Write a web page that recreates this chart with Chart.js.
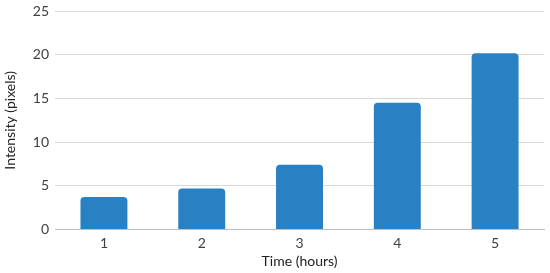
<!DOCTYPE html>
<html>
<head>
<meta charset="utf-8">
<script src="https://cdn.jsdelivr.net/npm/chart.js@4/dist/chart.umd.min.js"></script>
<style>
  html, body { margin: 0; padding: 0; background: #fff; }
  #wrap { width: 550px; height: 273px; }
</style>
</head>
<body>
<div id="wrap"><canvas id="chart"></canvas></div>
<script>
const hours = ['1', '2', '3', '4', '5'];
const intensity = [3.7, 4.7, 7.4, 14.5, 20.2];
const yTicks = [0, 5, 10, 15, 20, 25];

const font = "Lato, 'Liberation Sans', Arial, sans-serif";

new Chart(document.getElementById('chart'), {
  type: 'bar',
  data: {
    labels: hours,
    datasets: [{
      data: intensity,
      backgroundColor: '#2980c2',
      borderRadius: { topLeft: 4, topRight: 4 },
      borderSkipped: 'bottom',
      categoryPercentage: 0.48,
      barPercentage: 1
    }]
  },
  options: {
    responsive: true,
    maintainAspectRatio: false,
    animation: false,
    layout: { padding: { top: 0, right: 6, left: 2, bottom: 3 } },
    plugins: { legend: { display: false }, tooltip: { enabled: false } },
    scales: {
      x: {
        grid: { display: false, drawTicks: false },
        border: { color: '#bfbfbf', width: 1 },
        ticks: { color: '#404040', font: { family: font, size: 14 }, padding: 6 },
        title: { display: true, text: 'Time (hours)', color: '#222', font: { family: font, size: 14 }, padding: { top: -5, bottom: 0 } }
      },
      y: {
        min: 0,
        max: 25,
        afterBuildTicks: axis => { axis.ticks = yTicks.map(v => ({ value: v })); },
        grid: { color: '#d9d9d9', drawTicks: false },
        border: { display: false },
        ticks: { color: '#404040', font: { family: font, size: 14, lineHeight: 0.75 }, padding: 6 },
        title: { display: true, text: 'Intensity (pixels)', color: '#222', font: { family: font, size: 14 }, padding: { top: 0, bottom: 8 } }
      }
    }
  }
});
</script>
</body>
</html>
